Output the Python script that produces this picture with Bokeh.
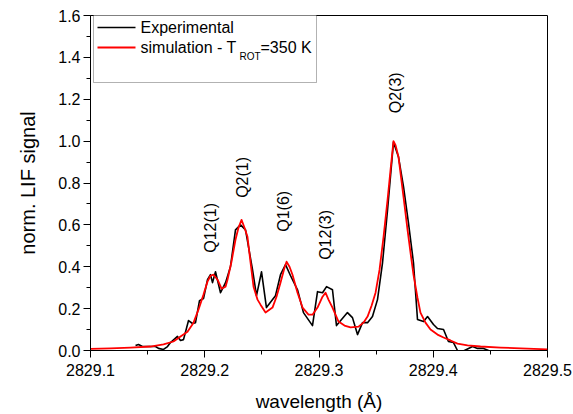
from math import pi
from bokeh.plotting import figure
from bokeh.models import Range1d, FixedTicker, PrintfTickFormatter, Label, BoxAnnotation
from bokeh.embed import file_html
from bokeh.resources import INLINE

# ---- data ----
exp_wavelength = [2829.1394, 2829.1420, 2829.1455, 2829.1499, 2829.1543, 2829.1569, 2829.1595, 2829.1639,
                  2829.1674, 2829.1700, 2829.1761, 2829.1788, 2829.1814, 2829.1858, 2829.1893, 2829.1919,
                  2829.1954, 2829.1989, 2829.2024, 2829.2050, 2829.2068, 2829.2094, 2829.2138, 2829.2182,
                  2829.2225, 2829.2269, 2829.2313, 2829.2357, 2829.2418, 2829.2453, 2829.2497, 2829.2540,
                  2829.2619, 2829.2663, 2829.2707, 2829.2751, 2829.2812, 2829.2864, 2829.2943, 2829.2987,
                  2829.3031, 2829.3066, 2829.3118, 2829.3153, 2829.3249, 2829.3293, 2829.3337, 2829.3381,
                  2829.3425, 2829.3468, 2829.3512, 2829.3556, 2829.3600, 2829.3652, 2829.3696, 2829.3740,
                  2829.3783, 2829.3827, 2829.3862, 2829.3915, 2829.3950, 2829.4002, 2829.4037, 2829.4090,
                  2829.4133, 2829.4177, 2829.4212, 2829.4256, 2829.4291, 2829.4344, 2829.4387, 2829.4440,
                  2829.4484]
exp_signal = [0.024, 0.029, 0.019, 0.019, 0.019, 0.019, 0.010, 0.005,
              0.019, 0.038, 0.067, 0.048, 0.052, 0.143, 0.129, 0.133,
              0.238, 0.248, 0.338, 0.362, 0.324, 0.376, 0.276, 0.324,
              0.400, 0.576, 0.600, 0.576, 0.386, 0.262, 0.376, 0.205,
              0.262, 0.362, 0.410, 0.357, 0.290, 0.181, 0.119, 0.281,
              0.276, 0.305, 0.290, 0.119, 0.181, 0.157, 0.076, 0.133,
              0.133, 0.162, 0.243, 0.419, 0.671, 0.995, 0.924, 0.781,
              0.610, 0.419, 0.148, 0.138, 0.162, 0.124, 0.105, 0.100,
              0.043, 0.038, 0.000, -0.005, 0.005, 0.019, 0.010, 0.010,
              0.000]

sim_wavelength = [2829.1000, 2829.1175, 2829.1350, 2829.1525, 2829.1639, 2829.1726, 2829.1788, 2829.1849,
                  2829.1902, 2829.1945, 2829.1989, 2829.2024, 2829.2050, 2829.2077, 2829.2112, 2829.2147,
                  2829.2182, 2829.2199, 2829.2234, 2829.2269, 2829.2295, 2829.2322, 2829.2348, 2829.2374,
                  2829.2400, 2829.2427, 2829.2462, 2829.2488, 2829.2532, 2829.2593, 2829.2628, 2829.2663,
                  2829.2698, 2829.2716, 2829.2742, 2829.2768, 2829.2812, 2829.2856, 2829.2908, 2829.2943,
                  2829.2987, 2829.3031, 2829.3057, 2829.3083, 2829.3118, 2829.3171, 2829.3223, 2829.3276,
                  2829.3346, 2829.3389, 2829.3425, 2829.3460, 2829.3495, 2829.3530, 2829.3565, 2829.3600,
                  2829.3626, 2829.3652, 2829.3670, 2829.3696, 2829.3740, 2829.3775, 2829.3801, 2829.3827,
                  2829.3862, 2829.3888, 2829.3932, 2829.3976, 2829.4037, 2829.4090, 2829.4151, 2829.4212,
                  2829.4300, 2829.4414, 2829.4589, 2829.4764, 2829.5000]
sim_signal = [0.008, 0.010, 0.014, 0.019, 0.029, 0.043, 0.067, 0.090,
              0.133, 0.195, 0.267, 0.329, 0.357, 0.362, 0.338, 0.295,
              0.305, 0.338, 0.424, 0.529, 0.586, 0.624, 0.586, 0.543,
              0.424, 0.305, 0.243, 0.219, 0.181, 0.205, 0.257, 0.324,
              0.395, 0.424, 0.400, 0.362, 0.276, 0.205, 0.171, 0.171,
              0.205, 0.257, 0.276, 0.243, 0.205, 0.138, 0.119, 0.110,
              0.114, 0.133, 0.162, 0.214, 0.276, 0.386, 0.543, 0.719,
              0.862, 1.000, 0.981, 0.924, 0.733, 0.576, 0.467, 0.362,
              0.252, 0.181, 0.133, 0.100, 0.076, 0.062, 0.048, 0.033,
              0.024, 0.019, 0.014, 0.010, 0.005]

peak_names = ["Q12(1)", "Q2(1)", "Q1(6)", "Q12(3)", "Q2(3)"]
peak_wavelength = [2829.2046, 2829.2330, 2829.2689, 2829.3057, 2829.3670]
peak_label_y = [0.467, 0.729, 0.567, 0.433, 1.133]

x_ticks = [2829.1, 2829.2, 2829.3, 2829.4, 2829.5]
x_minor_ticks = [2829.15, 2829.25, 2829.35, 2829.45]
y_ticks = [0.0, 0.2, 0.4, 0.6, 0.8, 1.0, 1.2, 1.4, 1.6]
y_minor_ticks = [0.1, 0.3, 0.5, 0.7, 0.9, 1.1, 1.3, 1.5]

FONT = "Liberation Sans"

p = figure(width=573, height=414, output_backend="svg", toolbar_location=None,
           x_range=Range1d(2829.1, 2829.5), y_range=Range1d(0.0, 1.6),
           min_border_left=90, min_border_right=26, min_border_top=15, min_border_bottom=63)
p.grid.visible = False
p.outline_line_color = "black"
p.outline_line_width = 1
p.background_fill_color = "white"
p.border_fill_color = "white"

p.line(exp_wavelength, exp_signal, line_color="black", line_width=1.6, line_join="round")
p.line(sim_wavelength, sim_signal, line_color="#ff0000", line_width=1.8, line_join="round")

for ax in (p.xaxis[0], p.yaxis[0]):
    ax.major_tick_out = 7
    ax.major_tick_in = 0
    ax.minor_tick_out = 4
    ax.minor_tick_in = 0
    ax.axis_line_color = "black"
    ax.major_tick_line_color = "black"
    ax.minor_tick_line_color = "black"
    ax.major_label_text_font = FONT
    ax.major_label_text_font_size = "16px"
    ax.major_label_text_color = "black"
    ax.axis_label_text_font = FONT
    ax.axis_label_text_font_style = "normal"
    ax.axis_label_text_color = "black"

p.xaxis.axis_label_text_font_size = "19px"
p.yaxis.axis_label_text_font_size = "20px"
p.xaxis.ticker = FixedTicker(ticks=x_ticks, minor_ticks=x_minor_ticks)
p.yaxis.ticker = FixedTicker(ticks=y_ticks, minor_ticks=y_minor_ticks)
p.xaxis.formatter = PrintfTickFormatter(format="%.1f")
p.yaxis.formatter = PrintfTickFormatter(format="%.1f")
p.xaxis.axis_label = "wavelength (\u00c5)"
p.yaxis.axis_label = "norm. LIF signal"
p.xaxis.major_label_standoff = 6
p.xaxis.axis_label_standoff = 12
p.yaxis.major_label_standoff = 3
p.yaxis.axis_label_standoff = 16

# peak annotations
for name, wl, ly in zip(peak_names, peak_wavelength, peak_label_y):
    p.add_layout(Label(x=wl, y=ly, text=name, angle=pi / 2, text_align="left",
                       text_baseline="middle", text_font=FONT, text_font_size="16px",
                       text_color="black"))

# legend (frame-relative screen units)
p.add_layout(BoxAnnotation(left=3, right=226, top=336, bottom=268,
                           left_units="screen", right_units="screen",
                           top_units="screen", bottom_units="screen",
                           fill_color="white", fill_alpha=1.0,
                           line_color="black", line_width=1))
p.add_layout(BoxAnnotation(left=7, right=45, top=323.8, bottom=322.2,
                           left_units="screen", right_units="screen",
                           top_units="screen", bottom_units="screen",
                           fill_color="black", fill_alpha=1.0, line_alpha=0))
p.add_layout(BoxAnnotation(left=7, right=45, top=303.9, bottom=302.1,
                           left_units="screen", right_units="screen",
                           top_units="screen", bottom_units="screen",
                           fill_color="#ff0000", fill_alpha=1.0, line_alpha=0))
legend_texts = [("Experimental", 50, 323, "16px"),
                ("simulation - T", 50, 303, "16px"),
                ("ROT", 149, 294, "10px"),
                ("=350 K", 170, 303, "16px")]
for txt, sx, sy, fs in legend_texts:
    p.add_layout(Label(x=sx, y=sy, x_units="screen", y_units="screen", text=txt,
                       text_align="left", text_baseline="middle", text_font=FONT,
                       text_font_size=fs, text_color="black"))

open("out.html", "w").write(file_html(p, INLINE))
